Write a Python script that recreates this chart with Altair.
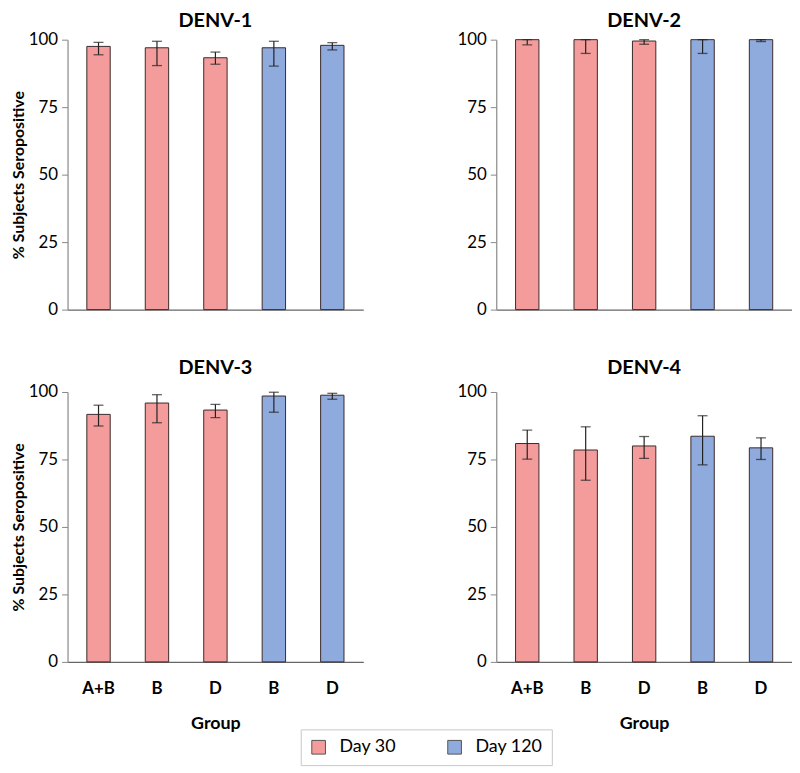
import altair as alt
import pandas as pd

groups = ["A+B", "B", "D", "B", "D"]
days = ["Day 30", "Day 30", "Day 30", "Day 120", "Day 120"]
slots = [f"{g}_{i}" for i, g in enumerate(groups)]

denv1 = [97.5, 97.0, 93.3, 97.0, 97.9]
denv1_lo = [94.4, 90.4, 90.9, 90.2, 96.2]
denv1_hi = [99.0, 99.4, 95.4, 99.4, 98.9]

denv2 = [100.0, 100.0, 99.5, 100.0, 100.0]
denv2_lo = [98.1, 94.9, 98.3, 94.9, 99.3]
denv2_hi = [100.0, 100.0, 100.0, 100.0, 100.0]

denv3 = [91.7, 95.9, 93.3, 98.5, 98.8]
denv3_lo = [87.4, 88.6, 90.5, 92.5, 97.3]
denv3_hi = [95.1, 99.0, 95.4, 99.9, 99.5]

denv4 = [80.9, 78.5, 80.0, 83.6, 79.3]
denv4_lo = [75.1, 67.3, 75.4, 73.0, 75.0]
denv4_hi = [85.9, 87.1, 83.5, 91.2, 83.0]

FONT = "Lato"
RED = "#F49C9C"
BLUE = "#8FAADC"
YTITLE = "% Subjects Seropositive"


def panel(name, vals, lo, hi, bottom, left):
    df = pd.DataFrame({"slot": slots, "group": groups, "day": days,
                       "value": vals, "lo": lo, "hi": hi})
    base = alt.Chart(df)
    xaxis = alt.Axis(labels=bottom, labelExpr="split(datum.label, '_')[0]",
                     labelAngle=0, ticks=False, tickSize=0, labelPadding=19,
                     labelFontSize=17, labelFontWeight="bold", labelColor="black",
                     domainColor="#666", domainWidth=1.2,
                     titleFontSize=18, titleFontWeight="bold", titlePadding=18)
    xscale = alt.Scale(paddingInner=0.6, paddingOuter=0.33)
    if bottom:
        x = alt.X("slot:N", sort=slots, scale=xscale, axis=xaxis, title="Group")
    else:
        x = alt.X("slot:N", sort=slots, scale=xscale, axis=xaxis, title=None)
    yaxis = alt.Axis(values=[0, 25, 50, 75, 100], grid=False, tickSize=6,
                     tickColor="#888", domainColor="#888", domainWidth=1.2,
                     labelFontSize=17, labelColor="black", labelPadding=4,
                     titleFontSize=16, titleFontWeight="bold", titlePadding=2)
    yscale = alt.Scale(domain=[0, 100])
    ytitle = YTITLE if left else None
    bars = base.mark_bar(stroke="#3a2a2a", strokeWidth=1).encode(
        x=x,
        y=alt.Y("value:Q", scale=yscale, axis=yaxis, title=ytitle),
        color=alt.Color("day:N",
                        scale=alt.Scale(domain=["Day 30", "Day 120"], range=[RED, BLUE]),
                        legend=alt.Legend(title=None, orient="none", legendX=235, legendY=695,
                                          direction="horizontal")),
    )
    rule = base.mark_rule(color="#222", strokeWidth=1.2).encode(
        x=x, y=alt.Y("lo:Q", scale=yscale, title=ytitle), y2="hi:Q")
    tlo = base.mark_tick(color="#222", size=10, thickness=1.3).encode(
        x=x, y=alt.Y("lo:Q", scale=yscale, title=ytitle))
    thi = base.mark_tick(color="#222", size=10, thickness=1.3).encode(
        x=x, y=alt.Y("hi:Q", scale=yscale, title=ytitle))
    return alt.layer(bars, rule, tlo, thi).properties(
        width=298, height=272,
        title=alt.TitleParams(name, fontSize=20, fontWeight="bold", font=FONT,
                              anchor="middle", offset=5 if bottom else 0,
                              frame="group", color="black"))


p1 = panel("DENV-1", denv1, denv1_lo, denv1_hi, False, True)
p2 = panel("DENV-2", denv2, denv2_lo, denv2_hi, False, False)
p3 = panel("DENV-3", denv3, denv3_lo, denv3_hi, True, True)
p4 = panel("DENV-4", denv4, denv4_lo, denv4_hi, True, False)

chart = alt.vconcat(
    alt.hconcat(p1, p2, spacing=94),
    alt.hconcat(p3, p4, spacing=94),
    spacing=41,
).properties(
    padding={"left": 2, "top": 0, "right": 0, "bottom": 0}
).configure(
    font=FONT
).configure_view(
    stroke=None
).configure_legend(
    strokeColor="#c8c8c8", padding=9, symbolType="square", symbolSize=190,
    symbolStrokeColor="#555", symbolStrokeWidth=1, labelFontSize=18,
    labelFont=FONT, labelColor="black", columnPadding=50, labelOffset=12,
    cornerRadius=0
)

chart.save("out.html", embed_options={"renderer": "svg", "actions": False})
